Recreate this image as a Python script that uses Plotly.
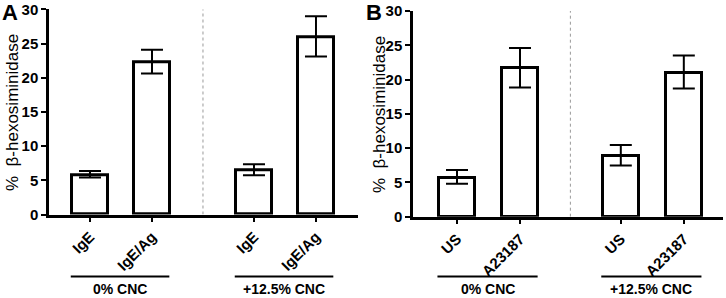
import plotly.graph_objects as go

# ---- data ----
cats_a = ["IgE", "IgE/Ag", "IgE", "IgE/Ag"]
vals_a = [5.8, 22.3, 6.5, 25.9]
upper_a = [6.35, 24.1, 7.35, 29.0]
lower_a = [5.4, 20.6, 5.75, 23.1]

cats_b = ["US", "A23187", "US", "A23187"]
vals_b = [5.7, 21.7, 8.9, 21.0]
upper_b = [6.8, 24.6, 10.45, 23.5]
lower_b = [4.8, 18.85, 7.45, 18.7]

groups = ["0% CNC", "+12.5% CNC"]
y_title = "%\u00a0\u00a0\u03b2-hexosiminidase"
y_ticks = [0, 5, 10, 15, 20, 25, 30]

# ---- layout constants ----
FONT = "Arial"
pos_a = [0, 1, 2.645, 3.645]
pos_b = [0, 1, 2.6, 3.6]

fig = go.Figure()


def add_panel(cats, vals, up, lo, pos, xa, ya):
    fig.add_trace(go.Bar(
        x=pos, y=vals, width=0.58,
        marker=dict(color="white", line=dict(color="black", width=3)),
        error_y=dict(type="data", symmetric=False,
                     array=[u - v for u, v in zip(up, vals)],
                     arrayminus=[v - l for v, l in zip(vals, lo)],
                     color="black", thickness=2, width=11),
        xaxis=xa, yaxis=ya, showlegend=False, hoverinfo="skip"))


add_panel(cats_a, vals_a, upper_a, lower_a, pos_a, "x", "y")
add_panel(cats_b, vals_b, upper_b, lower_b, pos_b, "x2", "y2")

xcommon = dict(showline=True, linecolor="black", linewidth=2.5, ticks="outside",
               ticklen=5, tickwidth=2, tickcolor="black", tickangle=-45,
               tickfont=dict(family=FONT, size=15, color="black", weight="bold"),
               showgrid=False, zeroline=False, fixedrange=True, automargin=False)
ycommon = dict(showline=True, linecolor="black", linewidth=2.5, ticks="outside",
               ticklen=5, tickwidth=2, tickcolor="black", range=[0, 30],
               tickvals=y_ticks,
               tickfont=dict(family=FONT, size=15, color="black", weight="bold"),
               showgrid=False, zeroline=False, fixedrange=True, automargin=False)

fig.update_layout(
    width=726, height=298, margin=dict(l=0, r=0, t=0, b=0, autoexpand=False),
    paper_bgcolor="white", plot_bgcolor="white", bargap=0,
    xaxis=dict(domain=[49 / 726, 358 / 726], range=[-0.661, 4.323],
               tickvals=pos_a, ticktext=cats_a, anchor="y", **xcommon),
    yaxis=dict(domain=[1 - 214.5 / 298, 1 - 9.3 / 298], anchor="x", **ycommon),
    xaxis2=dict(domain=[413 / 726, 723 / 726], range=[-0.698, 4.222],
                tickvals=pos_b, ticktext=cats_b, anchor="y2", **xcommon),
    yaxis2=dict(domain=[1 - 216.7 / 298, 1 - 11 / 298], anchor="x2", **ycommon),
)

shapes = []
annotations = []
for xr, yr, pos, ytc, xt, letter, xl in [
        ("x", "y", pos_a, 113, 13, "A", 10),
        ("x2", "y2", pos_b, 115, 379, "B", 374)]:
    mid = (pos[1] + pos[2]) / 2
    shapes.append(dict(type="line", xref=xr, yref=yr, x0=mid, x1=mid, y0=0, y1=30,
                       line=dict(color="#999999", width=1, dash="dot")))
    for gi, g in enumerate(groups):
        p0, p1 = pos[2 * gi], pos[2 * gi + 1]
        shapes.append(dict(type="line", xref=xr, yref="paper",
                           x0=p0 - 0.31, x1=p1 + 0.28,
                           y0=1 - 276.5 / 298, y1=1 - 276.5 / 298,
                           line=dict(color="black", width=2)))
        annotations.append(dict(text=g, xref=xr, yref="paper",
                                x=(p0 - 0.31 + p1 + 0.28) / 2, y=1 - 288.5 / 298,
                                showarrow=False, xanchor="center", yanchor="middle",
                                font=dict(family=FONT, size=14, color="black", weight="bold")))
    annotations.append(dict(text=y_title, xref="paper", yref="paper",
                            x=xt / 726, y=1 - ytc / 298, textangle=-90,
                            showarrow=False, xanchor="center", yanchor="middle",
                            font=dict(family=FONT, size=17, color="black")))
    annotations.append(dict(text=letter, xref="paper", yref="paper",
                            x=xl / 726, y=1 - 13 / 298, showarrow=False,
                            xanchor="center", yanchor="middle",
                            font=dict(family=FONT, size=22, color="black", weight="bold")))

fig.update_layout(shapes=shapes, annotations=annotations)
fig.write_html("out.html", config={"displayModeBar": False},
               post_script="document.body.style.margin='0';document.body.style.overflow='hidden';")
